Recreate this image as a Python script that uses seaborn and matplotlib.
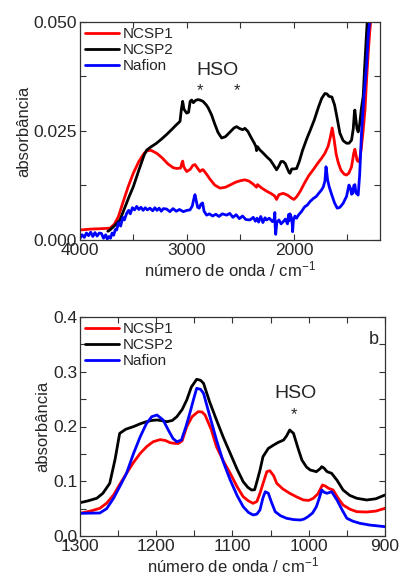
import numpy as np
import pandas as pd
import matplotlib
matplotlib.use("Agg")
import matplotlib.pyplot as plt
from matplotlib.ticker import MultipleLocator, FormatStrFormatter
import seaborn as sns

# ---------------- panel a (high wavenumber): (wavenumber, absorbance) ----------------
a_ncsp1 = [(4000, 0.0023), (3900, 0.0025), (3800, 0.0026), (3720, 0.0027), (3680, 0.0036), (3642, 0.0053),
           (3600, 0.0085), (3550, 0.0122), (3502, 0.0153), (3450, 0.0180), (3400, 0.0199), (3377, 0.0204),
           (3340, 0.0206), (3283, 0.0199), (3230, 0.0188), (3180, 0.0175), (3130, 0.0166), (3097, 0.0164),
           (3060, 0.0165), (3048, 0.0176), (3040, 0.0181), (3030, 0.0168), (3003, 0.0157), (2970, 0.0162),
           (2945, 0.0171), (2925, 0.0173), (2905, 0.0166), (2878, 0.0157), (2860, 0.0161), (2848, 0.0161),
           (2820, 0.0152), (2780, 0.0138), (2740, 0.0126), (2692, 0.0119), (2640, 0.0121), (2590, 0.0127),
           (2540, 0.0133), (2500, 0.0136), (2458, 0.0138), (2420, 0.0135), (2380, 0.0128), (2350, 0.0121),
           (2340, 0.0127), (2300, 0.0119), (2255, 0.0112), (2210, 0.0106), (2180, 0.0101), (2162, 0.0093),
           (2140, 0.0104), (2100, 0.0107), (2060, 0.0103), (2022, 0.0096), (2000, 0.0093), (1975, 0.0099),
           (1940, 0.0112), (1900, 0.0131), (1860, 0.0148), (1820, 0.0161), (1780, 0.0175), (1740, 0.0188),
           (1710, 0.0199), (1680, 0.0215), (1660, 0.0235), (1642, 0.0257), (1625, 0.0232), (1605, 0.0197),
           (1586, 0.0178), (1560, 0.0160), (1530, 0.0151), (1508, 0.0149), (1485, 0.0154), (1461, 0.0168),
           (1440, 0.0200), (1430, 0.0208), (1420, 0.0196), (1410, 0.0183), (1399, 0.0180), (1385, 0.0184),
           (1370, 0.0210), (1352, 0.0252), (1335, 0.0300), (1320, 0.0370), (1305, 0.0430), (1290, 0.0480),
           (1274, 0.0520)]

a_ncsp2 = [(3740, 0.0020), (3720, 0.0023), (3680, 0.0032), (3626, 0.0046), (3580, 0.0075), (3540, 0.0100),
           (3502, 0.0122), (3450, 0.0160), (3400, 0.0195), (3377, 0.0206), (3340, 0.0213), (3290, 0.0221),
           (3240, 0.0231), (3190, 0.0242), (3140, 0.0254), (3100, 0.0264), (3065, 0.0272), (3052, 0.0300),
           (3040, 0.0318), (3028, 0.0300), (3003, 0.0291), (2985, 0.0293), (2970, 0.0318), (2956, 0.0321),
           (2940, 0.0315), (2920, 0.0320), (2900, 0.0322), (2878, 0.0321), (2850, 0.0318), (2820, 0.0310),
           (2801, 0.0303), (2770, 0.0287), (2740, 0.0266), (2710, 0.0247), (2676, 0.0234), (2640, 0.0237),
           (2600, 0.0247), (2560, 0.0257), (2536, 0.0260), (2510, 0.0256), (2480, 0.0253), (2458, 0.0256),
           (2430, 0.0249), (2400, 0.0235), (2370, 0.0222), (2355, 0.0214), (2349, 0.0205), (2340, 0.0214),
           (2320, 0.0207), (2290, 0.0200), (2255, 0.0191), (2220, 0.0183), (2190, 0.0172), (2162, 0.0161),
           (2140, 0.0170), (2120, 0.0180), (2100, 0.0180), (2080, 0.0175), (2060, 0.0163), (2045, 0.0155),
           (2037, 0.0153), (2020, 0.0163), (2000, 0.0163), (1975, 0.0164), (1950, 0.0180), (1920, 0.0205),
           (1880, 0.0232), (1850, 0.0250), (1810, 0.0275), (1770, 0.0305), (1740, 0.0325), (1710, 0.0336),
           (1690, 0.0335), (1675, 0.0330), (1664, 0.0329), (1645, 0.0328), (1620, 0.0310), (1600, 0.0285),
           (1570, 0.0245), (1540, 0.0228), (1508, 0.0222), (1485, 0.0222), (1461, 0.0229), (1445, 0.0255),
           (1435, 0.0290), (1430, 0.0298), (1420, 0.0275), (1410, 0.0255), (1399, 0.0248), (1385, 0.0265),
           (1370, 0.0300), (1352, 0.0330), (1340, 0.0390), (1321, 0.0474), (1305, 0.0540), (1290, 0.0600)]

a_nafion = [(4000, 0.0004), (3980, 0.0012), (3960, 0.0006), (3940, 0.0016), (3920, 0.0010), (3900, 0.0018),
            (3880, 0.0008), (3860, 0.0017), (3840, 0.0009), (3820, 0.0016), (3800, 0.0015), (3780, 0.0004),
            (3760, 0.0012), (3745, 0.0002), (3730, 0.0008), (3715, 0.0004), (3700, 0.0016), (3685, 0.0011),
            (3670, 0.0024), (3657, 0.0023), (3640, 0.0040), (3620, 0.0032), (3600, 0.0052), (3585, 0.0046),
            (3564, 0.0061), (3545, 0.0068), (3530, 0.0060), (3510, 0.0074), (3490, 0.0069), (3470, 0.0077),
            (3450, 0.0070), (3430, 0.0075), (3410, 0.0068), (3390, 0.0074), (3370, 0.0069), (3346, 0.0073),
            (3320, 0.0067), (3300, 0.0074), (3280, 0.0068), (3260, 0.0073), (3240, 0.0066), (3220, 0.0072),
            (3190, 0.0071), (3160, 0.0065), (3130, 0.0072), (3100, 0.0066), (3070, 0.0070), (3034, 0.0065),
            (3000, 0.0068), (2972, 0.0069), (2950, 0.0078), (2935, 0.0095), (2925, 0.0104), (2915, 0.0092),
            (2900, 0.0075), (2885, 0.0073), (2870, 0.0082), (2854, 0.0085), (2840, 0.0066), (2816, 0.0057),
            (2790, 0.0060), (2760, 0.0055), (2730, 0.0059), (2700, 0.0054), (2670, 0.0060), (2629, 0.0057),
            (2600, 0.0061), (2570, 0.0052), (2540, 0.0058), (2510, 0.0049), (2480, 0.0055), (2450, 0.0047),
            (2411, 0.0046), (2380, 0.0052), (2360, 0.0043), (2345, 0.0050), (2330, 0.0041), (2310, 0.0054),
            (2290, 0.0040), (2270, 0.0051), (2255, 0.0046), (2230, 0.0050), (2200, 0.0042), (2185, 0.0048),
            (2178, 0.0063), (2175, 0.0030), (2170, 0.0013), (2160, 0.0040), (2140, 0.0046), (2120, 0.0037),
            (2100, 0.0042), (2080, 0.0048), (2060, 0.0037), (2050, 0.0058), (2045, 0.0044), (2037, 0.0060),
            (2025, 0.0053), (2015, 0.0035), (2012, 0.0019), (2005, 0.0045), (1990, 0.0055), (1975, 0.0050),
            (1955, 0.0058), (1930, 0.0065), (1900, 0.0076), (1875, 0.0080), (1850, 0.0088), (1820, 0.0095),
            (1790, 0.0100), (1765, 0.0108), (1741, 0.0115), (1725, 0.0122), (1710, 0.0135), (1700, 0.0168),
            (1695, 0.0160), (1685, 0.0138), (1670, 0.0122), (1648, 0.0105), (1620, 0.0085), (1595, 0.0073),
            (1570, 0.0075), (1540, 0.0084), (1508, 0.0100), (1485, 0.0126), (1470, 0.0118), (1461, 0.0105),
            (1450, 0.0107), (1440, 0.0125), (1430, 0.0127), (1420, 0.0108), (1410, 0.0106), (1399, 0.0103),
            (1385, 0.0150), (1368, 0.0245), (1345, 0.0330), (1321, 0.0400), (1305, 0.0470), (1290, 0.0505),
            (1275, 0.0540)]

# ---------------- panel b (fingerprint region): (wavenumber, absorbance) ----------------
b_ncsp1 = [(1300, 0.0414), (1285, 0.0460), (1274, 0.0506), (1265, 0.0600), (1256, 0.0749), (1248, 0.0940),
           (1239, 0.1145), (1230, 0.1340), (1221, 0.1510), (1212, 0.1640), (1204, 0.1722), (1195, 0.1760),
           (1188, 0.1745), (1182, 0.1705), (1176, 0.1692), (1171, 0.1690), (1166, 0.1740), (1160, 0.1997),
           (1153, 0.2180), (1145, 0.2271), (1140, 0.2265), (1136, 0.2210), (1128, 0.1950), (1121, 0.1631),
           (1112, 0.1370), (1103, 0.1145), (1094, 0.0900), (1086, 0.0718), (1079, 0.0640), (1073, 0.0597),
           (1068, 0.0630), (1064, 0.0780), (1059, 0.1000), (1055, 0.1175), (1051, 0.1193), (1046, 0.1100),
           (1042, 0.0962), (1034, 0.0860), (1025, 0.0780), (1016, 0.0715), (1007, 0.0658), (1000, 0.0650),
           (994, 0.0689), (988, 0.0770), (982, 0.0932), (978, 0.0910), (974, 0.0871), (968, 0.0840),
           (962, 0.0700), (955, 0.0566), (946, 0.0490), (937, 0.0444), (924, 0.0438), (912, 0.0455),
           (900, 0.0506)]

b_ncsp2 = [(1300, 0.0608), (1290, 0.0640), (1278, 0.0689), (1270, 0.0780), (1261, 0.0962), (1254, 0.1400),
           (1248, 0.1874), (1240, 0.1950), (1230, 0.1997), (1221, 0.2050), (1213, 0.2088), (1206, 0.2110),
           (1199, 0.2119), (1192, 0.2105), (1186, 0.2088), (1179, 0.2110), (1173, 0.2179), (1166, 0.2310),
           (1160, 0.2484), (1154, 0.2720), (1147, 0.2862), (1142, 0.2845), (1138, 0.2789), (1130, 0.2450),
           (1121, 0.2119), (1112, 0.1800), (1103, 0.1510), (1094, 0.1220), (1086, 0.0992), (1080, 0.0890),
           (1075, 0.0840), (1071, 0.0845), (1068, 0.0992), (1064, 0.1200), (1060, 0.1449), (1053, 0.1600),
           (1046, 0.1662), (1040, 0.1710), (1033, 0.1753), (1029, 0.1830), (1025, 0.1936), (1020, 0.1875),
           (1014, 0.1600), (1009, 0.1388), (1003, 0.1260), (998, 0.1205), (990, 0.1175), (985, 0.1230),
           (983, 0.1266), (980, 0.1240), (976, 0.1175), (970, 0.1145), (963, 0.1020), (955, 0.0840),
           (946, 0.0740), (937, 0.0689), (924, 0.0658), (912, 0.0680), (900, 0.0749)]

b_nafion = [(1300, 0.0414), (1285, 0.0418), (1274, 0.0420), (1265, 0.0500), (1256, 0.0689), (1248, 0.0900),
            (1239, 0.1145), (1230, 0.1500), (1221, 0.1814), (1213, 0.2050), (1206, 0.2179), (1199, 0.2210),
            (1191, 0.2119), (1184, 0.1930), (1178, 0.1780), (1173, 0.1722), (1167, 0.1753), (1161, 0.2000),
            (1156, 0.2241), (1151, 0.2500), (1147, 0.2697), (1142, 0.2680), (1138, 0.2606), (1130, 0.2200),
            (1121, 0.1753), (1112, 0.1350), (1103, 0.1023), (1094, 0.0740), (1086, 0.0535), (1079, 0.0430),
            (1073, 0.0384), (1068, 0.0400), (1064, 0.0475), (1060, 0.0700), (1057, 0.0809), (1053, 0.0780),
            (1049, 0.0620), (1044, 0.0444), (1037, 0.0370), (1029, 0.0323), (1020, 0.0300), (1011, 0.0292),
            (1006, 0.0310), (1001, 0.0353), (995, 0.0420), (990, 0.0535), (986, 0.0700), (983, 0.0840),
            (980, 0.0800), (976, 0.0780), (970, 0.0809), (963, 0.0658), (956, 0.0470), (950, 0.0323),
            (942, 0.0270), (933, 0.0232), (920, 0.0200), (900, 0.0170)]

series_names = ["NCSP1", "NCSP2", "Nafion"]
series_colors = ["#ff0000", "#000000", "#0000ff"]

a_ticks = [4000, 3000, 2000]
a_yticks = [0.000, 0.025, 0.050]
b_ticks = [1300, 1200, 1100, 1000, 900]
b_yticks = [0.0, 0.1, 0.2, 0.3, 0.4]


def make_df(series_list):
    frames = []
    for name, pts in zip(series_names, series_list):
        arr = np.array(pts, dtype=float)
        frames.append(pd.DataFrame({"x": arr[:, 0], "y": arr[:, 1], "serie": name}))
    return pd.concat(frames, ignore_index=True)


df_a = make_df([a_ncsp1, a_ncsp2, a_nafion])
df_b = make_df([b_ncsp1, b_ncsp2, b_nafion])

sns.set_style("ticks")
plt.rcParams["font.family"] = ["Liberation Sans", "DejaVu Sans"]
plt.rcParams["mathtext.fontset"] = "custom"
plt.rcParams["mathtext.rm"] = "Liberation Sans"
plt.rcParams["mathtext.default"] = "regular"

fig = plt.figure(figsize=(4.01, 5.78), dpi=100)
ax1 = fig.add_axes([80 / 401, 1 - 240 / 578, 300 / 401, 218 / 578])
ax2 = fig.add_axes([80 / 401, 1 - 536 / 578, 305 / 401, 219 / 578])

palette = dict(zip(series_names, series_colors))

for ax, df in [(ax1, df_a), (ax2, df_b)]:
    sns.lineplot(data=df, x="x", y="y", hue="serie", hue_order=series_names, palette=palette,
                 estimator=None, sort=False, linewidth=2.0, ax=ax)

ax1.set_xlim(4000, 1195)
ax1.set_ylim(0, 0.05)
ax1.set_xticks(a_ticks)
ax1.set_yticks(a_yticks)
ax1.xaxis.set_minor_locator(MultipleLocator(500))
ax1.yaxis.set_minor_locator(MultipleLocator(0.0125))
ax1.yaxis.set_major_formatter(FormatStrFormatter("%.3f"))

ax2.set_xlim(1300, 900)
ax2.set_ylim(0, 0.4)
ax2.set_xticks(b_ticks)
ax2.set_yticks(b_yticks)
ax2.xaxis.set_minor_locator(MultipleLocator(50))
ax2.yaxis.set_minor_locator(MultipleLocator(0.05))
ax2.yaxis.set_major_formatter(FormatStrFormatter("%.1f"))

for ax in (ax1, ax2):
    ax.set_xlabel("número de onda / cm$^{-1}$", fontsize=12, labelpad=1)
    ax.set_ylabel("absorbância", fontsize=12, labelpad=2)
    ax.tick_params(which="both", direction="in", top=True, right=True, labelsize=12.5, pad=2,
                   width=0.8, color="#333333")
    ax.tick_params(which="major", length=4)
    ax.tick_params(which="minor", length=4)
    for s in ax.spines.values():
        s.set_linewidth(0.9)
        s.set_color("#333333")
    ax.legend(loc="upper left", frameon=False, fontsize=11, handlelength=2.2, handletextpad=0.25,
              labelspacing=0.12, borderaxespad=0.15, borderpad=0.2, title=None)

ax1.text(2710, 0.0388, "HSO", fontsize=14, ha="center", va="center")
ax1.text(2878, 0.0342, "*", fontsize=12, ha="center", va="center")
ax1.text(2533, 0.0342, "*", fontsize=12, ha="center", va="center")

ax2.text(1017, 0.261, "HSO", fontsize=14, ha="center", va="center")
ax2.text(1020, 0.222, "*", fontsize=12, ha="center", va="center")
ax2.text(915, 0.358, "b", fontsize=13, ha="center", va="center")

fig.savefig("out.png", dpi=100)
